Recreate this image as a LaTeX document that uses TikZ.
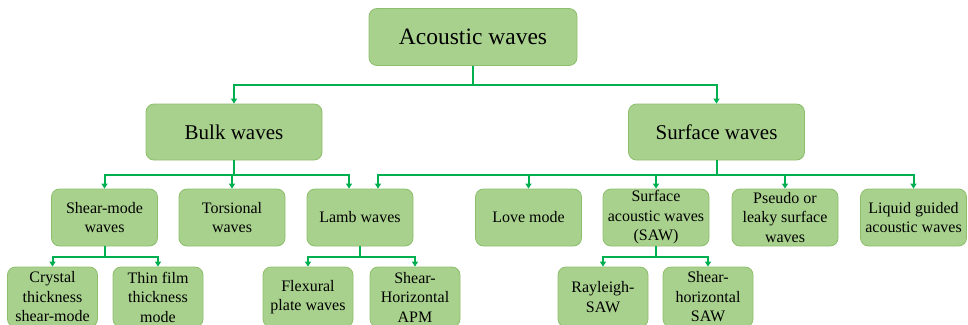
\documentclass[tikz,border=0pt]{standalone}
\usepackage{fontspec}
\setmainfont{Liberation Serif}
\usetikzlibrary{arrows.meta}
\definecolor{boxfill}{HTML}{A9D18E}
\definecolor{boxline}{HTML}{8DBE6C}
\definecolor{linkgreen}{HTML}{00B050}

\begin{document}
\begin{tikzpicture}[
  x=1pt,
  y=-1pt,
  box/.style={draw=boxline, fill=boxfill, line width=0.8pt,
    rounded corners=8pt, align=center, inner sep=0pt},
  toplevel/.style={box, minimum width=208pt, minimum height=57pt,
    font=\fontsize{23.5}{28}\selectfont},
  midlevel/.style={box, minimum width=176pt, minimum height=56pt,
    font=\fontsize{21}{25}\selectfont},
  leaf/.style={box, minimum width=106pt, minimum height=57pt,
    font=\fontsize{16}{19.5}\selectfont},
  subleaf/.style={box, minimum width=90pt, minimum height=60pt,
    font=\fontsize{16}{19.5}\selectfont},
  link/.style={draw=linkgreen, line width=2pt},
  arrow/.style={link, -{Triangle[width=6pt,length=5pt]}}
]
  \clip (0,0) rectangle (968,324);

  % tree
  \node[toplevel] (acoustic) at (473,37) {Acoustic waves};

  \node[midlevel] (bulk) at (234,132) {Bulk waves};
  \node[midlevel] (surface) at (716.5,132) {Surface waves};

  \node[leaf] (shearmode) at (104.5,217.5) {Shear-mode\\waves};
  \node[leaf] (torsional) at (232,217.5) {Torsional\\waves};
  \node[leaf] (lamb) at (360,217.5) {Lamb waves};
  \node[leaf] (love) at (528.5,217.5) {Love mode};
  \node[leaf] (saw) at (656,217.5) {Surface\\acoustic waves\\(SAW)};
  \node[leaf] (pseudo) at (785,217.5) {Pseudo or\\leaky surface\\waves};
  \node[leaf] (liquid) at (913.5,217.5) {Liquid guided\\acoustic waves};

  \node[subleaf] (crystal) at (52.5,297) {Crystal\\thickness\\shear-mode};
  \node[subleaf] (thinfilm) at (158,297) {Thin film\\thickness\\mode};
  \node[subleaf] (flexural) at (308,297) {Flexural\\plate waves};
  \node[subleaf] (shapm) at (415,297) {Shear-\\Horizontal\\APM};
  \node[subleaf] (rayleigh) at (603,297) {Rayleigh-\\SAW};
  \node[subleaf] (shsaw) at (708,297) {Shear-\\horizontal\\SAW};

  % connectors
  \coordinate (topbar) at (473,85);
  \draw[link] (acoustic.south) -- (topbar);
  \draw[arrow] (topbar) -| (bulk.north);
  \draw[arrow] (topbar) -| (surface.north);

  \coordinate (bulkbar) at (234,175);
  \draw[link] (bulk.south) -- (bulkbar);
  \draw[arrow] (bulkbar) -| (shearmode.north);
  \draw[arrow] (bulkbar) -| (torsional.north);
  \draw[arrow] (bulkbar) -| ([xshift=-11pt]lamb.north);

  \coordinate (surfbar) at (716.5,175);
  \draw[link] (surface.south) -- (surfbar);
  \draw[arrow] (surfbar) -| ([xshift=18pt]lamb.north);
  \draw[arrow] (surfbar) -| (love.north);
  \draw[arrow] (surfbar) -| (saw.north);
  \draw[arrow] (surfbar) -| (pseudo.north);
  \draw[arrow] (surfbar) -| (liquid.north);

  \coordinate (shearbar) at (104.5,257);
  \draw[link] (shearmode.south) -- (shearbar);
  \draw[arrow] (shearbar) -| (crystal.north);
  \draw[arrow] (shearbar) -| (thinfilm.north);

  \coordinate (lambbar) at (360,257);
  \draw[link] (lamb.south) -- (lambbar);
  \draw[arrow] (lambbar) -| (flexural.north);
  \draw[arrow] (lambbar) -| (shapm.north);

  \coordinate (sawbar) at (656,257);
  \draw[link] (saw.south) -- (sawbar);
  \draw[arrow] (sawbar) -| (rayleigh.north);
  \draw[arrow] (sawbar) -| (shsaw.north);
\end{tikzpicture}
\end{document}
